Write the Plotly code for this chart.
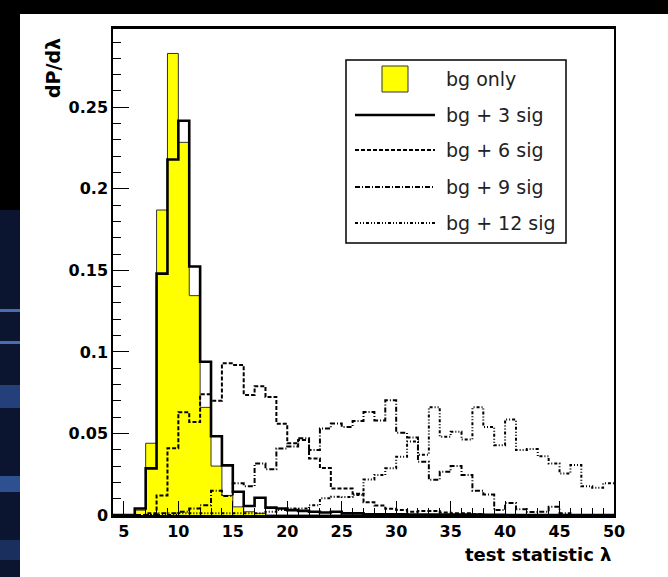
import plotly.graph_objects as go

# ---------------- data (bins of width 1, left edges 4..49) ----------------
bin_edges = list(range(4, 51))
bin_centers = [e + 0.5 for e in range(4, 50)]

bg_only = [0, 0, 0.003, 0.044, 0.187, 0.283, 0.2285, 0.1345, 0.066, 0.030,
           0.012, 0.005, 0.002, 0.001, 0, 0, 0, 0, 0, 0,
           0, 0, 0, 0, 0, 0, 0, 0, 0, 0,
           0, 0, 0, 0, 0, 0, 0, 0, 0, 0,
           0, 0, 0, 0, 0, 0]

bg_3sig = [0, 0, 0.004, 0.0286, 0.148, 0.218, 0.2417, 0.1524, 0.094, 0.0483,
           0.0304, 0.0143, 0.0055, 0.0106, 0.0045, 0.004, 0.003, 0.0025, 0.002, 0.0015,
           0.002, 0.001, 0.001, 0.0005, 0.0005, 0.0005, 0.0005, 0.0003, 0.0003, 0.0003,
           0.0002, 0.0002, 0.0002, 0.0002, 0.0001, 0.0001, 0, 0, 0, 0,
           0, 0, 0, 0, 0, 0]

bg_6sig = [0, 0, 0, 0.001, 0.012, 0.041, 0.063, 0.057, 0.074, 0.070,
           0.093, 0.092, 0.0736, 0.079, 0.0724, 0.056, 0.044, 0.046, 0.0347, 0.0288,
           0.0163, 0.0163, 0.013, 0.0078, 0.0058, 0.0038, 0.003, 0.002, 0.0025, 0.0025,
           0.0015, 0.001, 0.001, 0.0005, 0, 0, 0, 0, 0, 0,
           0, 0, 0, 0, 0, 0]

bg_9sig = [0, 0, 0, 0, 0.001, 0.001, 0.002, 0.004, 0.006, 0.0149,
           0.0116, 0.0194, 0.0177, 0.0316, 0.028, 0.0408, 0.042, 0.047, 0.0398, 0.053,
           0.0561, 0.054, 0.0577, 0.0632, 0.058, 0.0704, 0.0504, 0.0475, 0.0326, 0.0216,
           0.0265, 0.030, 0.0245, 0.0149, 0.0125, 0.003, 0.0073, 0.0035, 0.0018, 0.002,
           0.005, 0.001, 0, 0, 0, 0]

bg_12sig = [0, 0, 0, 0, 0, 0, 0.001, 0.001, 0.001, 0.001,
            0.001, 0.001, 0.001, 0.001, 0.002, 0.003, 0.004, 0.004, 0.006, 0.0102,
            0.0112, 0.011, 0.0122, 0.0218, 0.0245, 0.0286, 0.0357, 0.045, 0.037, 0.066,
            0.048, 0.051, 0.0463, 0.066, 0.054, 0.0428, 0.0585, 0.0398, 0.0404, 0.036,
            0.0316, 0.0255, 0.0306, 0.0177, 0.0167, 0.0194]

legend_names = ["bg only", "bg + 3 sig", "bg + 6 sig", "bg + 9 sig", "bg + 12 sig"]

x_ticks = [5, 10, 15, 20, 25, 30, 35, 40, 45, 50]
y_ticks = [0, 0.05, 0.1, 0.15, 0.2, 0.25]
y_tick_text = ["0", "0.05", "0.1", "0.15", "0.2", "0.25"]

# ---------------- layout geometry (pixels) ----------------
W, H = 668, 577
L, R, T, B = 113, 614, 29, 515


def xp(px):
    return (px - L) / (R - L)


def yp(py):
    return (B - py) / (B - T)


fig = go.Figure()

# filled "bg only" histogram
fig.add_trace(go.Bar(x=bin_centers, y=bg_only, width=1,
                     marker=dict(color="#ffff00", line=dict(width=0)),
                     name=legend_names[0], showlegend=False))
# its thin outline
fig.add_trace(go.Scatter(x=bin_edges, y=list(bg_only) + [bg_only[-1]], mode="lines",
                         line=dict(shape="hv", color="#333333", width=1),
                         showlegend=False, hoverinfo="skip"))

line_series = [
    (bg_3sig, "solid", 2.6),
    (bg_6sig, "4px,2px", 2),
    (bg_9sig, "5px,2px,1px,2px", 2),
    (bg_12sig, "3px,2px,1px,2px,1px,2px", 2),
]
for i, (vals, dash, w) in enumerate(line_series):
    fig.add_trace(go.Scatter(x=bin_edges, y=list(vals) + [vals[-1]], mode="lines",
                             line=dict(shape="hv", color="black", width=w, dash=dash),
                             name=legend_names[i + 1], showlegend=False))

tick_font = dict(family="DejaVu Sans", size=16, color="black", weight="bold")

fig.update_xaxes(range=[4, 50], tickvals=x_ticks, ticks="inside", ticklen=14, tickwidth=1,
                 tickcolor="black", tickfont=tick_font,
                 minor=dict(dtick=1, tick0=4, ticks="inside", ticklen=7, tickcolor="black", tickwidth=1),
                 showline=True, linecolor="black", linewidth=2.5, mirror=True,
                 showgrid=False, zeroline=False, fixedrange=True)
fig.update_yaxes(range=[0, 0.298], tickvals=y_ticks, ticktext=y_tick_text, ticks="inside",
                 ticklen=16, tickwidth=1, tickcolor="black", tickfont=tick_font,
                 minor=dict(dtick=0.01, tick0=0, ticks="inside", ticklen=8, tickcolor="black", tickwidth=1),
                 showline=True, linecolor="black", linewidth=1.5, mirror=True,
                 showgrid=False, zeroline=False, fixedrange=True)

shapes = []
# dark slide background strips
shapes.append(dict(type="rect", xref="paper", yref="paper", x0=xp(0), x1=xp(W), y0=yp(0), y1=yp(14),
                   fillcolor="black", line=dict(width=0), layer="below"))
shapes.append(dict(type="rect", xref="paper", yref="paper", x0=xp(0), x1=xp(20), y0=yp(0), y1=yp(H),
                   fillcolor="black", line=dict(width=0), layer="below"))
shapes.append(dict(type="rect", xref="paper", yref="paper", x0=xp(0), x1=xp(20), y0=yp(210), y1=yp(H),
                   fillcolor="#0b1530", line=dict(width=0), layer="below"))
for y0, y1, c in [(309, 312, "#4a6cb0"), (341, 344, "#4a6cb0"), (385, 408, "#23407a"),
                  (476, 492, "#2f5090"), (540, 560, "#1a2f5e")]:
    shapes.append(dict(type="rect", xref="paper", yref="paper", x0=xp(0), x1=xp(20), y0=yp(y0), y1=yp(y1),
                       fillcolor=c, line=dict(width=0), layer="below"))

# legend box
shapes.append(dict(type="rect", xref="paper", yref="paper", x0=xp(346), x1=xp(566), y0=yp(60), y1=yp(243),
                   fillcolor="white", line=dict(color="black", width=1.5)))
shapes.append(dict(type="rect", xref="paper", yref="paper", x0=xp(382), x1=xp(408), y0=yp(66), y1=yp(92),
                   fillcolor="#ffff00", line=dict(color="#333333", width=1)))
row_y = [79, 115, 150, 187, 223]
for i, (vals, dash, w) in enumerate(line_series):
    shapes.append(dict(type="line", xref="paper", yref="paper", x0=xp(355), x1=xp(435),
                       y0=yp(row_y[i + 1]), y1=yp(row_y[i + 1]),
                       line=dict(color="black", width=w, dash=dash)))

annotations = []
for i, name in enumerate(legend_names):
    annotations.append(dict(text=name, xref="paper", yref="paper", x=xp(444), y=yp(row_y[i]),
                            xanchor="left", yanchor="middle", showarrow=False,
                            font=dict(family="DejaVu Sans", size=19, color="#222222")))

annotations.append(dict(text="test statistic λ", xref="paper", yref="paper", x=xp(613), y=yp(554),
                        xanchor="right", yanchor="middle", showarrow=False,
                        font=dict(family="DejaVu Sans", size=18, color="black", weight="bold")))
annotations.append(dict(text="dP/dλ", xref="paper", yref="paper", x=xp(53), y=yp(68),
                        xanchor="center", yanchor="middle", textangle=-90, showarrow=False,
                        font=dict(family="DejaVu Sans", size=19, color="black", weight="bold")))

fig.update_layout(width=W, height=H, autosize=False,
                  margin=dict(l=L, r=W - R, t=T, b=H - B, pad=0),
                  paper_bgcolor="white", plot_bgcolor="white",
                  bargap=0, showlegend=False,
                  shapes=shapes, annotations=annotations)

fig.write_html("out.html")
